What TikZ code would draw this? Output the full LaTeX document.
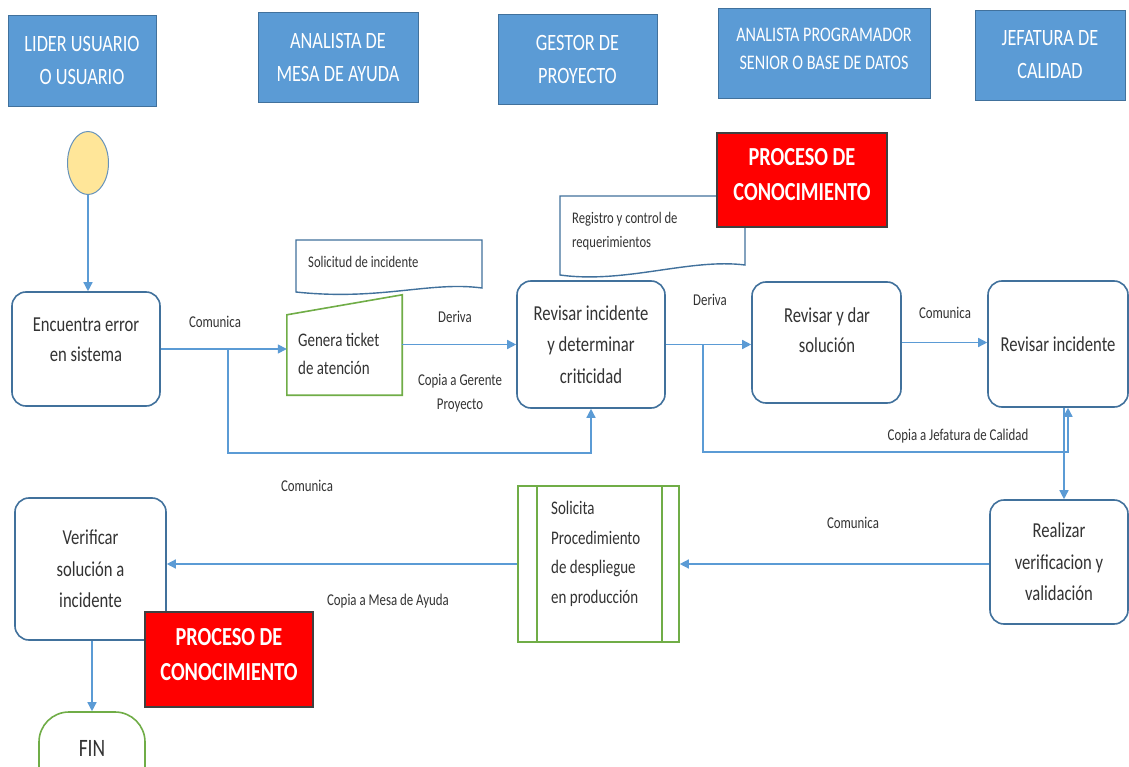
\documentclass[tikz,border=0pt]{standalone}
\usepackage{fontspec}
\setmainfont{Carlito}[FakeStretch=0.78]
\usetikzlibrary{arrows.meta,calc,shapes.geometric}
\definecolor{hdrfill}{HTML}{5B9BD5}
\definecolor{hdrline}{HTML}{41719C}
\definecolor{flow}{HTML}{5B9BD5}
\definecolor{boxline}{HTML}{41719C}
\definecolor{grn}{HTML}{70AD47}
\definecolor{txt}{HTML}{333333}
\definecolor{startfill}{HTML}{FFE699}
\definecolor{alert}{HTML}{FF0000}
\begin{document}
\begin{tikzpicture}[x=1pt,y=-1pt,
  hdr/.style={draw=hdrline, line width=0.9pt, fill=hdrfill, text=white, align=center,
    inner sep=0pt, font=\fontsize{23.4}{33}\selectfont},
  proc/.style={draw=boxline, line width=1.6pt, rounded corners=14pt, fill=white, text=txt,
    align=center, inner sep=0pt, font=\fontsize{21.3}{31.5}\selectfont},
  greenbox/.style={draw=grn, line width=1.6pt, fill=white, inner sep=0pt},
  boxtxt/.style={text=txt, inner sep=0pt, font=\fontsize{21.3}{30}\selectfont},
  alertbox/.style={draw=black!75, line width=1.5pt, fill=alert, inner sep=0pt},
  alerttxt/.style={text=white, align=center, inner sep=0pt, font=\fontsize{26}{35}\selectfont\bfseries},
  docshape/.style={draw=boxline, line width=1.4pt, fill=white},
  doctxt/.style={text=txt, inner sep=0pt, align=left, font=\fontsize{16.2}{24}\selectfont},
  lbl/.style={text=txt, inner sep=0pt, align=center, font=\fontsize{16.5}{24}\selectfont},
  arr/.style={draw=flow, line width=1.4pt, -{Triangle[length=9pt,width=9pt]}},
]
\useasboundingbox (0,0) rectangle (1129,767);
\clip (0,0) rectangle (1129,767);
\fill[white] (0,0) rectangle (1129,767);

% lane headers
\node[hdr, minimum width=148pt, minimum height=91pt] (h1) at (82,60.5) {LIDER USUARIO\\O USUARIO};
\node[hdr, minimum width=160pt, minimum height=90pt] (h2) at (338,57) {ANALISTA DE\\MESA DE AYUDA};
\node[hdr, minimum width=159pt, minimum height=90pt] (h3) at (577.5,59) {GESTOR DE\\PROYECTO};
\node[hdr, minimum width=212pt, minimum height=90pt] (h4) at (824,53) {};
\node[text=white, align=center, inner sep=0pt, font=\fontsize{20.7}{28}\selectfont] (h4txt)
  at (824,49) {ANALISTA PROGRAMADOR\\SENIOR O BASE DE DATOS};
\node[hdr, minimum width=150pt, minimum height=90pt] (h5) at (1050,55) {JEFATURA DE\\CALIDAD};

% start event
\node[ellipse, draw=flow!70!gray, line width=1pt, fill=startfill, minimum width=41pt,
  minimum height=63pt, inner sep=0pt] (st) at (88,163) {};

% activities
\node[proc, minimum width=148pt, minimum height=114pt] (A) at (86,349) {};
\node[boxtxt, align=center] (Atxt) at (86,340) {Encuentra error\\en sistema};

\node[proc, minimum width=148pt, minimum height=127pt] (C) at (591,344.5)
  {Revisar incidente\\y determinar\\criticidad};
\node[proc, minimum width=149pt, minimum height=121pt] (D) at (826.5,342.5) {};
\node[boxtxt, align=center] (Dtxt) at (827,330.5) {Revisar y dar\\solución};
\node[proc, minimum width=140pt, minimum height=126pt] (F) at (1058,344) {Revisar incidente};
\node[proc, minimum width=138pt, minimum height=124pt] (G) at (1059,562)
  {Realizar\\verificacion y\\validación};
\node[proc, minimum width=151pt, minimum height=142pt] (H) at (90.5,569)
  {Verificar\\solución a\\incidente};

% document: Solicitud de incidente
\coordinate (sd1) at (296,240);
\coordinate (sd2) at (482,240);
\draw[docshape] (sd1) -- (sd2) -- (482,288) .. controls (430,281) and (380,301) .. (296,292) -- cycle;
\node[doctxt, anchor=west] (sdtxt) at (308,262) {Solicitud de incidente};

% manual input: Genera ticket de atención
\node[minimum width=115pt, minimum height=100pt, inner sep=0pt] (tkt) at (344.5,345) {};
\draw[greenbox] (tkt.south west) -- ($(tkt.north west)+(0,20)$) -- (tkt.north east)
  -- (tkt.south east) -- cycle;
\node[text=txt, inner sep=0pt, align=left, anchor=west, font=\fontsize{19.2}{28}\selectfont]
  (tkttxt) at (298,354) {Genera ticket\\de atención};

% document: Registro y control de requerimientos
\draw[docshape] (560,196) -- (745,196) -- (745,265) .. controls (690,258) and (625,284) .. (560,275) -- cycle;
\node[doctxt, anchor=west] (rgtxt) at (572,231)
  {Registro y control de\\requerimientos};

% knowledge process markers
\node[alertbox, minimum width=170pt, minimum height=94pt] (k1) at (802,180) {};
\node[alerttxt] (k1txt) at (802,175) {PROCESO DE\\CONOCIMIENTO};

% predefined process: Solicita Procedimiento...
\node[greenbox, minimum width=161pt, minimum height=156pt] (E) at (598.5,564) {};
\draw[grn, line width=1.6pt] ($(E.north west)+(20,0)$) -- ($(E.south west)+(20,0)$);
\draw[grn, line width=1.6pt] ($(E.north east)+(-18,0)$) -- ($(E.south east)+(-18,0)$);
\node[text=txt, inner sep=0pt, align=left, anchor=west, font=\fontsize{19.2}{29.5}\selectfont]
  (Etxt) at (551,554) {Solicita\\Procedimiento\\de despliegue\\en producción};

\node[alertbox, minimum width=168pt, minimum height=95pt] (k2) at (229,659.5) {};
\node[alerttxt] (k2txt) at (229,655) {PROCESO DE\\CONOCIMIENTO};

% end event
\node[draw=grn, line width=1.6pt, fill=white, rounded corners=30pt, minimum width=106pt,
  minimum height=88pt, inner sep=0pt] (fin) at (92,756) {};
\node[boxtxt, font=\fontsize{25}{30}\selectfont] (fintxt) at (92,748) {FIN};

% flows
\draw[arr] (st.south) -- (st.south |- A.north);
\draw[arr] (A.east) -- (A.east -| tkt.west);
\coordinate (j1) at (228,349);
\coordinate (j1b) at (228,453);
\draw[arr] (j1) -- (j1b) -| (C.south);
\draw[arr] (tkt.east |- C.west) -- (C.west);
\draw[arr] (C.east) -- (C.east -| D.west);
\coordinate (j2) at (703,344.5);
\coordinate (j2b) at (703,452);
\draw[arr] (j2) -- (j2b) -| ($(F.south)+(10,0)$);
\draw[arr] ($(F.south)+(6,0)$) -- ($(G.north)+(5,0)$);
\draw[arr] (D.east) -- (D.east -| F.west);
\draw[arr] (G.west |- E.east) -- (E.east);
\draw[arr] (E.west) -- (E.west -| H.east);
\draw[arr] (H.south -| fin.north) -- (fin.north);

% flow labels
\node[lbl] (l1) at (215,322) {Comunica};
\node[lbl] (l2) at (307,486) {Comunica};
\node[lbl] (l3) at (455,317) {Deriva};
\node[lbl] (l4) at (460,393) {Copia a Gerente\\Proyecto};
\node[lbl] (l5) at (710,300) {Deriva};
\node[lbl] (l6) at (945,313) {Comunica};
\node[lbl] (l7) at (958,436) {Copia a Jefatura de Calidad};
\node[lbl] (l8) at (853,523) {Comunica};
\node[lbl] (l9) at (388,601) {Copia a Mesa de Ayuda};
\end{tikzpicture}
\end{document}
